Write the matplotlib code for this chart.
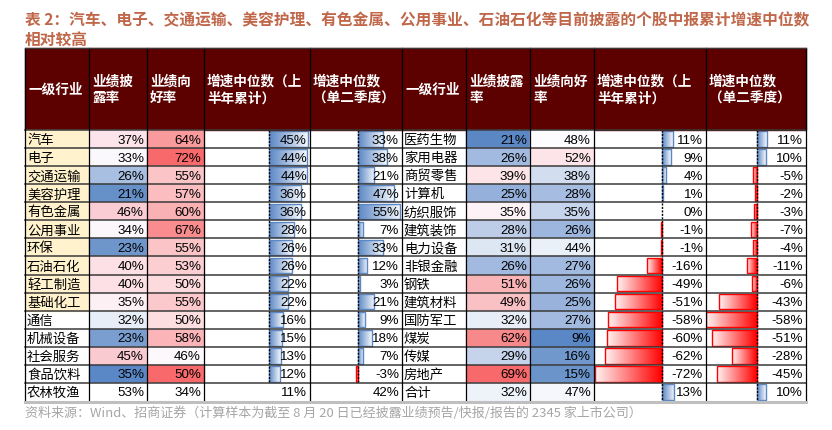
import numpy as np
import matplotlib
matplotlib.use('Agg')
import matplotlib.pyplot as plt
from matplotlib.patches import Rectangle
from matplotlib.colors import LinearSegmentedColormap

plt.rcParams['font.family'] = ['Noto Sans CJK SC', 'DejaVu Sans']

# ---- data ----
left_ind = ['汽车', '电子', '交通运输', '美容护理', '有色金属', '公用事业', '环保', '石油石化',
            '轻工制造', '基础化工', '通信', '机械设备', '社会服务', '食品饮料', '农林牧渔']
left_disc = [37, 33, 26, 21, 46, 34, 23, 40, 40, 35, 32, 23, 45, 35, 53]
left_good = [64, 72, 55, 57, 60, 67, 55, 53, 50, 55, 50, 58, 46, 50, 34]
left_h1 = [45, 44, 44, 36, 36, 28, 26, 26, 22, 22, 16, 15, 13, 12, 11]
left_q2 = [33, 38, 21, 47, 55, 7, 33, 12, 3, 21, 9, 18, 7, -3, 42]

right_ind = ['医药生物', '家用电器', '商贸零售', '计算机', '纺织服饰', '建筑装饰', '电力设备', '非银金融',
             '钢铁', '建筑材料', '国防军工', '煤炭', '传媒', '房地产', '合计']
right_disc = [21, 26, 39, 25, 35, 28, 31, 26, 51, 49, 32, 62, 29, 69, 32]
right_good = [48, 52, 38, 28, 35, 26, 44, 27, 26, 25, 27, 9, 16, 15, 47]
right_h1 = [11, 9, 4, 1, 0, -1, -1, -16, -49, -51, -58, -60, -62, -72, 13]
right_q2 = [11, 10, -5, -2, -3, -7, -4, -11, -6, -43, -58, -51, -28, -45, 10]

headers_l = ['一级行业', '业绩披\n露率', '业绩向\n好率', '增速中位数（上\n半年累计）', '增速中位数\n（单二季度）']
headers_r = ['一级行业', '业绩披露\n率', '业绩向好\n率', '增速中位数（上\n半年累计）', '增速中位数\n（单二季度）']

title = ('表 2：汽车、电子、交通运输、美容护理、有色金属、公用事业、石油石化等目前披露的个股中报累计增速中位数\n'
         '相对较高')
source = '资料来源：Wind、招商证券（计算样本为截至 8 月 20 日已经披露业绩预告/快报/报告的 2345 家上市公司）'

# conditional-format colours
left_disc_c = ['#FCE4EA', '#FAF8FC', '#A9BFE2', '#6690C8', '#F9CDD3', '#FBF7FB', '#6E96CB', '#FCE0E5',
               '#FCE0E5', '#FDF0F4', '#E8EEF7', '#7A9ED0', '#F9CACF', '#5A87C6', '#FFFFFF']
left_good_c = ['#F99A9D', '#F8696B', '#FBC5C8', '#FBBDC0', '#F9B1B4', '#F88C8E', '#FBC5C8', '#FBCED1',
               '#FCDADD', '#FBC9CC', '#FCDEE1', '#FBB5B8', '#FCF8FB', '#F8696B', '#FFFFFF']
right_disc_c = ['#5B87C5', '#A3BAE0', '#FCE4E8', '#95B1DB', '#FDF2F5', '#BDCDE8', '#DDE6F3', '#A3BAE0',
                '#F9B4B7', '#FAC1C4', '#E8EEF7', '#F8898B', '#C5D3EB', '#F8696B', '#EEF2F9']
right_good_c = ['#FCFBFE', '#FCE4E8', '#D2DDF0', '#A6BDE1', '#C6D4EC', '#9DB6DE', '#EAF0F8', '#A3BAE0',
                '#9DB6DE', '#98B2DC', '#A3BAE0', '#5A87C6', '#7098CC', '#6B94CA', '#F5F7FC']

# ---- layout (pixels) ----
W, H = 832, 431
cols_l = [25, 89, 147, 204, 310, 402]
cols_r = [402, 466, 530, 594, 706, 806]
head_top, body_top, body_bot = 49, 131, 402
n = len(left_ind)
rh = (body_bot - body_top) / n

fig = plt.figure(figsize=(W / 100, H / 100), dpi=100)
ax = fig.add_axes([0, 0, 1, 1])
ax.set_xlim(0, W)
ax.set_ylim(H, 0)
ax.axis('off')
ax.set_zorder(2)
ax.patch.set_alpha(0)

maroon = '#5C0000'
num_font = 'Liberation Sans'

ax.text(25, 30, title, fontsize=11.3, fontweight='bold', color='#C0674A', va='center', linespacing=1.3)

# header
ax.add_patch(Rectangle((25, head_top), 806 - 25, body_top - head_top, color=maroon, zorder=1))
for cols, hdr in [(cols_l, headers_l), (cols_r, headers_r)]:
    for j, t in enumerate(hdr):
        ax.text(cols[j] + 3, 90, t, fontsize=9.8, fontweight='bold', color='white',
                va='center', ha='left', linespacing=1.25, zorder=5)

# body cells
for cols, names, disc, good, h1, q2, dc, gc, yellow in [
        (cols_l, left_ind, left_disc, left_good, left_h1, left_q2, left_disc_c, left_good_c, 10),
        (cols_r, right_ind, right_disc, right_good, right_h1, right_q2, right_disc_c, right_good_c, 0)]:
    for i in range(n):
        y0 = body_top + i * rh
        yc = y0 + rh / 2
        if i < yellow:
            ax.add_patch(Rectangle((cols[0], y0), cols[1] - cols[0], rh, color='#FFF2CC', zorder=1))
        ax.add_patch(Rectangle((cols[1], y0), cols[2] - cols[1], rh, color=dc[i], zorder=1))
        ax.add_patch(Rectangle((cols[2], y0), cols[3] - cols[2], rh, color=gc[i], zorder=1))
        ax.text(cols[0] + 2, yc, names[i], fontsize=9.6, va='center', ha='left', zorder=5)
        for j, v in enumerate([disc[i], good[i], h1[i], q2[i]]):
            ax.text(cols[j + 2] - 3, yc + 0.5, f'{v}%', fontsize=9.6, family=num_font,
                    va='center', ha='right', zorder=5)

# grid lines
for i in range(n):
    y = body_top + i * rh
    ax.plot([25, 806], [y, y], color='#3A3A3A', lw=1.1, zorder=4)
for x in cols_l + cols_r[1:]:
    ax.plot([x, x], [head_top, body_bot], color='black', lw=0.9, zorder=4)
ax.plot([25, 806], [head_top, head_top], color='#3A3A3A', lw=0.9, zorder=4)
ax.plot([25, 806], [body_bot + 1.5, body_bot + 1.5], color='#BFBFBF', lw=2.2, zorder=4)

ax.text(25, 413, source, fontsize=9.4, color='#A6A6A6', va='center', ha='left')

# ---- data bars ----
blue_cm = LinearSegmentedColormap.from_list('b', ['#5B87C5', '#FFFFFF'])
red_cm = LinearSegmentedColormap.from_list('r', ['#FF0000', '#FFFFFF'])
grad = np.linspace(0, 0.95, 128).reshape(1, -1)


def data_bars(x0, x1, axis_px, scale, vals, nrows):
    bax = fig.add_axes([x0 / W, 1 - body_bot / H, (x1 - x0) / W, (body_bot - body_top) / H])
    bax.axis('off')
    bax.set_zorder(1)
    bh = 0.86
    for i in range(nrows):
        v = vals[i]
        if v == 0:
            continue
        col = '#5B87C5' if v > 0 else '#FF0000'
        im = bax.imshow(grad, cmap=blue_cm if v > 0 else red_cm, vmin=0, vmax=1,
                        extent=[0, v, i + 0.5 + bh / 2, i + 0.5 - bh / 2], aspect='auto', zorder=2)
        r = Rectangle((0, i + 0.5 - bh / 2), v, bh, fill=False, edgecolor=col, lw=1, zorder=3)
        bax.add_patch(r)
        im.set_clip_path(r)
    bax.plot([0, 0], [0, nrows], color='black', lw=1, ls=(0, (1.5, 1)), zorder=4)
    bax.set_xlim((x0 - axis_px) / scale, (x1 - axis_px) / scale)
    bax.set_ylim(n, 0)


data_bars(204, 310, 269.3, 0.867, left_h1, 14)
data_bars(310, 402, 357.8, 0.765, left_q2, 14)
data_bars(594, 706, 662.3, 0.93, right_h1, 15)
data_bars(706, 806, 757.0, 0.88, right_q2, 15)

fig.savefig('out.png', dpi=100)
